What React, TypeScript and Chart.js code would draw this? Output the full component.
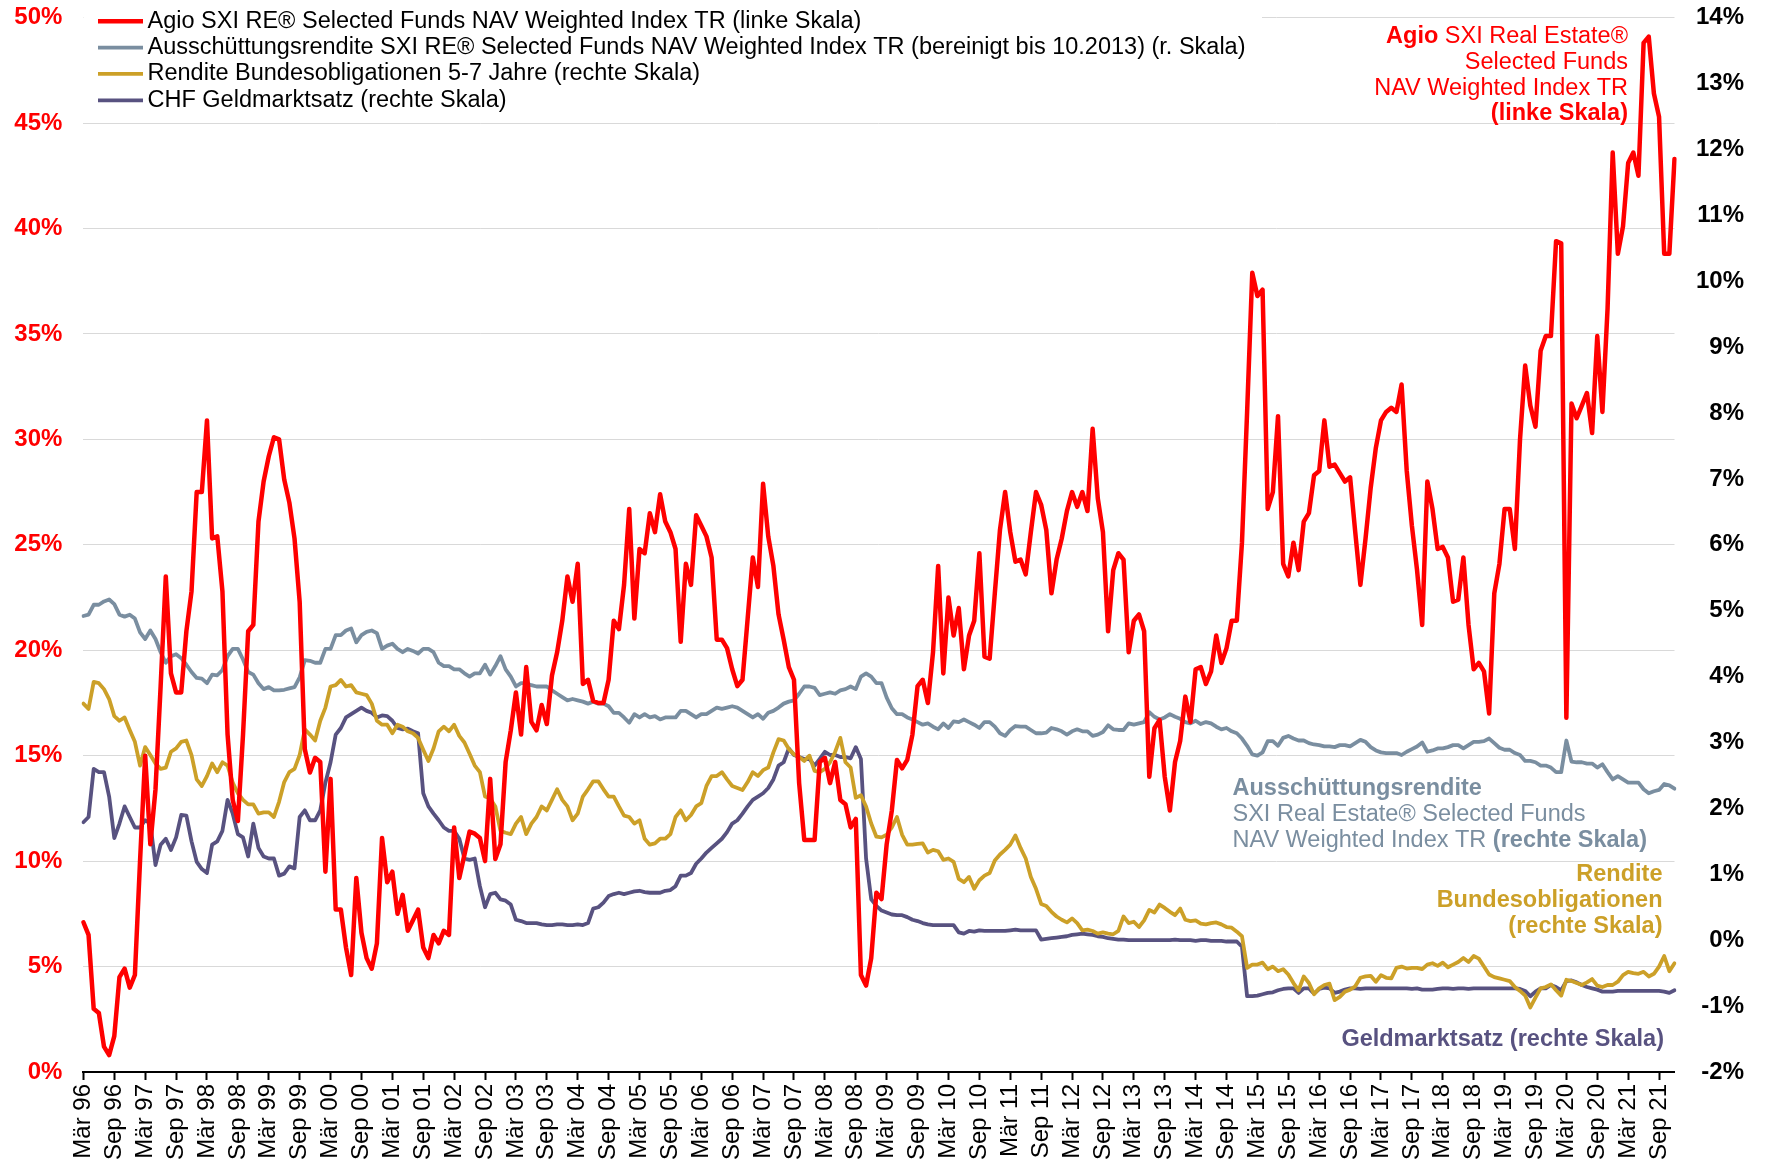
import React, { useEffect, useRef } from 'react';
import { Chart, registerables } from 'chart.js';

Chart.register(...registerables);

const FONT = '"Liberation Sans", Arial, Helvetica, sans-serif';

const RED = '#FF0000';
const GRAY = '#7A8EA0';
const GOLD = '#CCA028';
const PURPLE = '#585280';

// Monthly categories, Mär 96 .. Dez 21
const MONTH_NAMES = ['Jan', 'Feb', 'Mär', 'Apr', 'Mai', 'Jun', 'Jul', 'Aug', 'Sep', 'Okt', 'Nov', 'Dez'];
const FIRST_YEAR = 1996;
const FIRST_MONTH = 2; // März
const MONTH_COUNT = 310;
const categories: string[] = [];
for (let i = 0; i < MONTH_COUNT; i++) {
  const m = (FIRST_MONTH + i) % 12;
  const y = FIRST_YEAR + Math.floor((FIRST_MONTH + i) / 12);
  categories.push(MONTH_NAMES[m] + ' ' + String(y % 100).padStart(2, '0'));
}

// Agio SXI RE Selected Funds NAV Weighted Index TR (left scale, %)
const agio = [
  7.1, 6.5, 3.0, 2.8, 1.2, 0.8, 1.7, 4.5, 4.9, 4.0,
  4.6, 10.0, 15.0, 10.8, 13.4, 18.3, 23.5, 18.9, 18.0, 18.0,
  20.9, 22.8, 27.5, 27.5, 30.9, 25.3, 25.4, 22.8, 16.0, 12.9,
  11.9, 16.0, 20.9, 21.2, 26.1, 28.0, 29.2, 30.1, 30.0, 28.1,
  27.0, 25.3, 22.3, 15.3, 14.2, 14.9, 14.7, 9.5, 13.9, 7.7,
  7.7, 5.9, 4.6, 9.2, 6.6, 5.4, 4.9, 6.1, 11.1, 9.0,
  9.5, 7.5, 8.4, 6.7, 7.2, 7.7, 5.9, 5.4, 6.5, 6.1,
  6.7, 6.5, 11.6, 9.2, 10.3, 11.4, 11.3, 11.1, 10.0, 13.9,
  10.1, 10.8, 14.7, 16.2, 18.0, 16.0, 19.2, 16.6, 16.2, 17.4,
  16.5, 18.8, 19.9, 21.4, 23.5, 22.3, 24.1, 18.4, 18.6, 17.6,
  17.5, 17.5, 18.6, 21.4, 21.0, 23.1, 26.7, 21.5, 24.8, 24.6,
  26.5, 25.6, 27.4, 26.1, 25.6, 24.8, 20.4, 24.1, 23.1, 26.4,
  25.9, 25.4, 24.4, 20.5, 20.5, 20.1, 19.1, 18.3, 18.6, 21.5,
  24.4, 23.0, 27.9, 25.4, 24.0, 21.7, 20.5, 19.2, 18.6, 13.7,
  11.0, 11.0, 11.0, 14.7, 14.9, 13.7, 14.7, 12.9, 12.7, 11.6,
  12.0, 4.6, 4.1, 5.4, 8.5, 8.2, 10.8, 12.4, 14.8, 14.4,
  14.8, 16.0, 18.3, 18.6, 17.5, 19.9, 24.0, 18.9, 22.5, 20.7,
  22.0, 19.1, 20.7, 21.4, 24.6, 19.7, 19.6, 22.7, 25.7, 27.5,
  25.6, 24.2, 24.3, 23.6, 25.6, 27.5, 26.9, 25.7, 22.7, 24.3,
  25.3, 26.6, 27.5, 26.8, 27.5, 26.6, 30.5, 27.2, 25.6, 20.9,
  23.8, 24.6, 24.3, 19.9, 21.4, 21.7, 20.9, 14.0, 16.3, 16.7,
  14.0, 12.4, 14.7, 15.7, 17.8, 16.6, 19.1, 19.2, 18.4, 19.0,
  20.7, 19.4, 20.1, 21.4, 21.4, 25.1, 31.3, 37.9, 36.8, 37.1,
  26.7, 27.5, 31.1, 24.1, 23.5, 25.1, 23.8, 26.1, 26.5, 28.3,
  28.5, 30.9, 28.7, 28.8, 28.4, 28.0, 28.2, 25.6, 23.1, 25.3,
  27.7, 29.6, 30.9, 31.3, 31.5, 31.3, 32.6, 28.5, 25.9, 23.8,
  21.2, 28.0, 26.7, 24.8, 24.9, 24.4, 22.3, 22.4, 24.4, 21.2,
  19.1, 19.4, 19.0, 17.0, 22.7, 24.1, 26.7, 26.7, 24.8, 30.0,
  33.5, 31.6, 30.6, 34.2, 34.9, 34.9, 39.4, 39.3, 16.8, 31.7,
  31.0, 31.6, 32.2, 30.3, 34.9, 31.3, 36.2, 43.6, 38.8, 40.1,
  43.1, 43.6, 42.5, 48.8, 49.1, 46.4, 45.3, 38.8, 38.8, 43.3,
];

// Ausschüttungsrendite (right scale, %)
const ausschuettung = [
  4.92, 4.94, 5.09, 5.09, 5.14, 5.17, 5.10, 4.94, 4.91, 4.94,
  4.88, 4.67, 4.57, 4.70, 4.57, 4.37, 4.21, 4.31, 4.34, 4.28,
  4.18, 4.07, 3.98, 3.97, 3.90, 4.03, 4.02, 4.10, 4.31, 4.42,
  4.42, 4.26, 4.07, 4.03, 3.90, 3.81, 3.84, 3.79, 3.79, 3.80,
  3.82, 3.84, 3.99, 4.25, 4.24, 4.21, 4.21, 4.42, 4.42, 4.63,
  4.63, 4.70, 4.73, 4.52, 4.63, 4.68, 4.70, 4.66, 4.42, 4.47,
  4.50, 4.42, 4.37, 4.42, 4.39, 4.35, 4.42, 4.42, 4.37, 4.21,
  4.16, 4.16, 4.11, 4.11, 4.05, 4.00, 4.05, 4.05, 4.18, 4.03,
  4.16, 4.31, 4.11, 4.00, 3.85, 3.90, 3.90, 3.87, 3.85, 3.85,
  3.85, 3.79, 3.74, 3.69, 3.64, 3.66, 3.64, 3.62, 3.59, 3.62,
  3.59, 3.59, 3.55, 3.45, 3.45, 3.38, 3.30, 3.43, 3.38, 3.43,
  3.38, 3.40, 3.35, 3.38, 3.38, 3.38, 3.48, 3.48, 3.43, 3.38,
  3.43, 3.43, 3.48, 3.53, 3.51, 3.53, 3.55, 3.53, 3.48, 3.43,
  3.38, 3.43, 3.36, 3.45, 3.48, 3.53, 3.59, 3.62, 3.64, 3.74,
  3.85, 3.85, 3.83, 3.72, 3.74, 3.76, 3.74, 3.79, 3.81, 3.85,
  3.81, 4.00, 4.05, 4.00, 3.90, 3.90, 3.68, 3.52, 3.43, 3.43,
  3.38, 3.35, 3.31, 3.27, 3.29, 3.24, 3.20, 3.29, 3.22, 3.32,
  3.31, 3.35, 3.31, 3.27, 3.22, 3.31, 3.31, 3.24, 3.14, 3.10,
  3.19, 3.25, 3.24, 3.24, 3.19, 3.14, 3.14, 3.15, 3.22, 3.20,
  3.17, 3.12, 3.17, 3.20, 3.17, 3.17, 3.10, 3.12, 3.16, 3.26,
  3.20, 3.19, 3.19, 3.29, 3.27, 3.29, 3.31, 3.46, 3.39, 3.35,
  3.38, 3.43, 3.39, 3.36, 3.31, 3.29, 3.33, 3.28, 3.31, 3.29,
  3.24, 3.20, 3.22, 3.17, 3.14, 3.06, 2.95, 2.82, 2.80, 2.85,
  3.02, 3.02, 2.95, 3.07, 3.10, 3.06, 3.03, 3.03, 2.99, 2.97,
  2.96, 2.94, 2.94, 2.93, 2.96, 2.96, 2.94, 2.99, 3.04, 3.01,
  2.93, 2.88, 2.85, 2.84, 2.84, 2.84, 2.81, 2.86, 2.90, 2.94,
  3.00, 2.86, 2.88, 2.91, 2.91, 2.93, 2.96, 2.96, 2.91, 2.96,
  3.01, 3.01, 3.02, 3.06, 2.99, 2.92, 2.89, 2.89, 2.84, 2.81,
  2.72, 2.72, 2.70, 2.65, 2.65, 2.62, 2.55, 2.55, 3.03, 2.71,
  2.70, 2.70, 2.68, 2.68, 2.62, 2.67, 2.55, 2.44, 2.49, 2.44,
  2.39, 2.39, 2.39, 2.29, 2.23, 2.26, 2.28, 2.37, 2.35, 2.30,
];

// Rendite Bundesobligationen 5-7 Jahre (right scale, %)
const bundesobligationen = [
  3.59, 3.51, 3.92, 3.90, 3.81, 3.66, 3.40, 3.33, 3.38, 3.19,
  3.01, 2.65, 2.93, 2.81, 2.68, 2.60, 2.62, 2.86, 2.91, 3.01,
  3.03, 2.81, 2.44, 2.34, 2.49, 2.68, 2.55, 2.70, 2.65, 2.39,
  2.23, 2.13, 2.06, 2.06, 1.92, 1.94, 1.94, 1.87, 2.10, 2.40,
  2.55, 2.60, 2.81, 3.20, 3.12, 3.03, 3.33, 3.53, 3.85, 3.87,
  3.95, 3.85, 3.87, 3.76, 3.74, 3.72, 3.59, 3.33, 3.27, 3.27,
  3.14, 3.27, 3.24, 3.17, 3.14, 3.07, 2.89, 2.72, 2.91, 3.17,
  3.24, 3.17, 3.27, 3.10, 3.00, 2.83, 2.65, 2.55, 2.18, 2.15,
  2.03, 1.66, 1.63, 1.61, 1.77, 1.87, 1.61, 1.77, 1.87, 2.03,
  1.97, 2.13, 2.29, 2.13, 2.03, 1.82, 1.92, 2.18, 2.29, 2.41,
  2.41, 2.29, 2.18, 2.18, 2.03, 1.89, 1.87, 1.77, 1.82, 1.54,
  1.45, 1.47, 1.54, 1.54, 1.61, 1.87, 1.97, 1.82, 1.90, 2.03,
  2.08, 2.34, 2.49, 2.49, 2.55, 2.44, 2.34, 2.31, 2.28, 2.40,
  2.55, 2.49, 2.58, 2.62, 2.85, 3.05, 3.03, 2.90, 2.82, 2.78,
  2.72, 2.80, 2.57, 2.55, 2.60, 2.70, 2.86, 3.07, 2.70, 2.62,
  2.16, 2.20, 2.03, 1.77, 1.57, 1.56, 1.60, 1.71, 1.87, 1.60,
  1.45, 1.45, 1.46, 1.47, 1.33, 1.37, 1.35, 1.22, 1.24, 1.19,
  0.93, 0.88, 0.96, 0.78, 0.91, 0.98, 1.02, 1.21, 1.30, 1.37,
  1.45, 1.59, 1.40, 1.24, 0.96, 0.78, 0.55, 0.52, 0.43, 0.36,
  0.31, 0.27, 0.33, 0.26, 0.15, 0.16, 0.14, 0.10, 0.12, 0.10,
  0.09, 0.14, 0.36, 0.26, 0.28, 0.20, 0.30, 0.46, 0.42, 0.54,
  0.49, 0.43, 0.38, 0.48, 0.31, 0.29, 0.30, 0.25, 0.24, 0.26,
  0.27, 0.24, 0.20, 0.19, 0.13, 0.06, -0.42, -0.37, -0.37, -0.34,
  -0.44, -0.40, -0.47, -0.44, -0.52, -0.65, -0.76, -0.55, -0.65, -0.82,
  -0.73, -0.68, -0.66, -0.91, -0.86, -0.78, -0.75, -0.70, -0.57, -0.55,
  -0.54, -0.63, -0.53, -0.57, -0.58, -0.42, -0.40, -0.43, -0.42, -0.42,
  -0.44, -0.37, -0.35, -0.39, -0.34, -0.41, -0.37, -0.33, -0.27, -0.33,
  -0.24, -0.28, -0.40, -0.52, -0.56, -0.58, -0.60, -0.62, -0.71, -0.77,
  -0.84, -1.02, -0.87, -0.73, -0.71, -0.67, -0.76, -0.84, -0.60, -0.62,
  -0.65, -0.68, -0.64, -0.59, -0.69, -0.71, -0.68, -0.68, -0.63, -0.53,
  -0.48, -0.50, -0.51, -0.48, -0.55, -0.51, -0.40, -0.24, -0.47, -0.35,
];

// CHF Geldmarktsatz (right scale, %)
const geldmarktsatz = [
  1.79, 1.87, 2.60, 2.55, 2.55, 2.18, 1.55, 1.77, 2.03, 1.87,
  1.71, 1.71, 1.82, 1.77, 1.14, 1.45, 1.54, 1.37, 1.56, 1.90,
  1.89, 1.50, 1.19, 1.08, 1.02, 1.45, 1.50, 1.66, 2.13, 1.92,
  1.61, 1.56, 1.27, 1.77, 1.40, 1.27, 1.24, 1.24, 0.98, 1.01,
  1.12, 1.09, 1.87, 1.97, 1.82, 1.82, 1.97, 2.39, 2.70, 3.12,
  3.22, 3.38, 3.43, 3.48, 3.53, 3.48, 3.45, 3.38, 3.41, 3.40,
  3.33, 3.22, 3.20, 3.21, 3.17, 3.14, 2.23, 2.03, 1.92, 1.82,
  1.71, 1.66, 1.66, 1.54, 1.24, 1.22, 1.24, 0.82, 0.50, 0.70,
  0.72, 0.62, 0.60, 0.54, 0.31, 0.29, 0.26, 0.26, 0.26, 0.24,
  0.23, 0.23, 0.24, 0.24, 0.23, 0.23, 0.24, 0.23, 0.26, 0.48,
  0.50, 0.57, 0.67, 0.70, 0.72, 0.70, 0.72, 0.74, 0.75, 0.73,
  0.72, 0.72, 0.72, 0.75, 0.76, 0.82, 0.98, 0.98, 1.02, 1.16,
  1.24, 1.33, 1.40, 1.47, 1.54, 1.64, 1.77, 1.82, 1.92, 2.03,
  2.13, 2.18, 2.23, 2.31, 2.44, 2.65, 2.70, 2.91, 2.81, 2.78,
  2.75, 2.75, 2.65, 2.75, 2.86, 2.81, 2.81, 2.78, 2.78, 2.76,
  2.93, 2.75, 1.24, 0.62, 0.52, 0.45, 0.42, 0.39, 0.38, 0.38,
  0.35, 0.31, 0.29, 0.26, 0.24, 0.23, 0.23, 0.23, 0.23, 0.23,
  0.12, 0.10, 0.14, 0.13, 0.15, 0.14, 0.14, 0.14, 0.14, 0.14,
  0.15, 0.16, 0.15, 0.15, 0.15, 0.15, 0.01, 0.02, 0.03, 0.04,
  0.05, 0.06, 0.08, 0.09, 0.10, 0.09, 0.08, 0.06, 0.05, 0.03,
  0.02, 0.01, 0.01, 0.00, 0.00, 0.00, 0.00, 0.00, 0.00, 0.00,
  0.00, 0.00, 0.01, 0.00, 0.00, 0.00, -0.01, 0.00, 0.00, -0.01,
  -0.01, -0.01, -0.02, -0.02, -0.02, -0.10, -0.85, -0.85, -0.84, -0.82,
  -0.80, -0.79, -0.76, -0.74, -0.73, -0.73, -0.80, -0.73, -0.73, -0.81,
  -0.74, -0.72, -0.73, -0.80, -0.78, -0.75, -0.73, -0.73, -0.74, -0.73,
  -0.73, -0.73, -0.73, -0.73, -0.73, -0.73, -0.73, -0.73, -0.74, -0.73,
  -0.75, -0.75, -0.75, -0.74, -0.73, -0.73, -0.74, -0.73, -0.73, -0.74,
  -0.73, -0.73, -0.73, -0.73, -0.73, -0.73, -0.73, -0.73, -0.73, -0.74,
  -0.77, -0.85, -0.78, -0.73, -0.73, -0.68, -0.71, -0.76, -0.62, -0.61,
  -0.64, -0.68, -0.71, -0.73, -0.75, -0.78, -0.78, -0.78, -0.77, -0.77,
  -0.77, -0.77, -0.77, -0.77, -0.77, -0.77, -0.77, -0.78, -0.80, -0.76,
];

const legendLabels = [
  'Agio SXI RE® Selected Funds NAV Weighted Index TR (linke Skala)',
  'Ausschüttungsrendite SXI RE® Selected Funds NAV Weighted Index TR (bereinigt bis 10.2013) (r. Skala)',
  'Rendite Bundesobligationen 5-7 Jahre (rechte Skala)',
  'CHF Geldmarktsatz (rechte Skala)',
];
const seriesColors = [RED, GRAY, GOLD, PURPLE];
const seriesWidths = [4.5, 3.8, 3.8, 3.8];

const leftTicks = { min: 0, max: 50, step: 5 };
const rightTicks = { min: -2, max: 14, step: 1 };

type Part = { t: string; b?: boolean };

const TEXT_SIZE = 23.5;
const DY = 2.3;

function drawRich(ctx: CanvasRenderingContext2D, parts: Part[], x: number, y: number, align: 'left' | 'right', color: string) {
  ctx.save();
  ctx.fillStyle = color;
  ctx.textBaseline = 'middle';
  ctx.textAlign = 'left';
  const fontOf = (p: Part) => `${p.b ? 'bold ' : ''}${TEXT_SIZE}px ${FONT}`;
  let total = 0;
  const widths = parts.map((p) => {
    ctx.font = fontOf(p);
    const w = ctx.measureText(p.t).width;
    total += w;
    return w;
  });
  let cx = align === 'right' ? x - total : x;
  parts.forEach((p, i) => {
    ctx.font = fontOf(p);
    ctx.fillText(p.t, cx, y + DY);
    cx += widths[i];
  });
  ctx.restore();
}

const overlayPlugin = {
  id: 'overlayTexts',
  beforeDatasetsDraw(chart: any) {
    const ctx = chart.ctx as CanvasRenderingContext2D;
    ctx.save();
    ctx.fillStyle = '#FFFFFF';
    ctx.fillRect(chart.chartArea.left, 0, 1262 - chart.chartArea.left, 113);
    ctx.restore();
  },
  afterDraw(chart: any) {
    const ctx = chart.ctx as CanvasRenderingContext2D;
    // Legend
    const rowsY = [19, 45.3, 71.6, 98];
    legendLabels.forEach((label, i) => {
      ctx.save();
      ctx.strokeStyle = seriesColors[i];
      ctx.lineWidth = seriesWidths[i];
      ctx.lineCap = 'butt';
      ctx.beginPath();
      ctx.moveTo(98, rowsY[i] + DY);
      ctx.lineTo(143, rowsY[i] + DY);
      ctx.stroke();
      ctx.restore();
      drawRich(ctx, [{ t: label }], 147.5, rowsY[i], 'left', '#000000');
    });

    // Red annotation (top right)
    const redX = 1628;
    drawRich(ctx, [{ t: 'Agio', b: true }, { t: ' SXI Real Estate®' }], redX, 34, 'right', RED);
    drawRich(ctx, [{ t: 'Selected Funds' }], redX, 60, 'right', RED);
    drawRich(ctx, [{ t: 'NAV Weighted Index TR' }], redX, 86, 'right', RED);
    drawRich(ctx, [{ t: '(linke Skala)', b: true }], redX, 111.5, 'right', RED);

    // Gray annotation
    const grayX = 1232.5;
    drawRich(ctx, [{ t: 'Ausschüttungsrendite', b: true }], grayX, 786, 'left', GRAY);
    drawRich(ctx, [{ t: 'SXI Real Estate® Selected Funds' }], grayX, 812, 'left', GRAY);
    drawRich(ctx, [{ t: 'NAV Weighted Index TR ' }, { t: '(rechte Skala)', b: true }], grayX, 838, 'left', GRAY);

    // Gold annotation
    const goldX = 1662.5;
    drawRich(ctx, [{ t: 'Rendite', b: true }], goldX, 872.5, 'right', GOLD);
    drawRich(ctx, [{ t: 'Bundesobligationen', b: true }], goldX, 898.5, 'right', GOLD);
    drawRich(ctx, [{ t: '(rechte Skala)', b: true }], goldX, 924.5, 'right', GOLD);

    // Purple annotation
    drawRich(ctx, [{ t: 'Geldmarktsatz (rechte Skala)', b: true }], 1664, 1037.5, 'right', PURPLE);
  },
};

export default function App() {
  const canvasRef = useRef<HTMLCanvasElement | null>(null);

  useEffect(() => {
    const canvas = canvasRef.current;
    if (!canvas) return;
    const mk = (label: string, data: number[], i: number, axis: string) => ({
      label,
      data,
      yAxisID: axis,
      borderColor: seriesColors[i],
      backgroundColor: seriesColors[i],
      borderWidth: seriesWidths[i],
      pointRadius: 0,
      pointHoverRadius: 0,
      tension: 0,
      fill: false,
      borderJoinStyle: 'round' as const,
      borderCapStyle: 'round' as const,
    });
    const chart = new Chart(canvas, {
      type: 'line',
      data: {
        labels: categories,
        datasets: [
          mk(legendLabels[0], agio, 0, 'yL'),
          mk(legendLabels[1], ausschuettung, 1, 'yR'),
          mk(legendLabels[2], bundesobligationen, 2, 'yR'),
          mk(legendLabels[3], geldmarktsatz, 3, 'yR'),
        ],
      },
      options: {
        responsive: false,
        maintainAspectRatio: false,
        animation: false,
        devicePixelRatio: 1,
        events: [],
        layout: { padding: { left: 0, right: 21, top: 17.6, bottom: 0 } },
        plugins: {
          legend: { display: false },
          tooltip: { enabled: false },
          title: { display: false },
        },
        scales: {
          x: {
            type: 'category',
            offset: false,
            border: { display: true, color: '#000000', width: 2 },
            grid: {
              display: true,
              drawOnChartArea: false,
              drawTicks: true,
              tickLength: 8,
              tickWidth: 2,
              tickColor: (c: any) => (c.index % 6 === 0 ? '#000000' : 'rgba(0,0,0,0)'),
            },
            ticks: {
              autoSkip: false,
              minRotation: 90,
              maxRotation: 90,
              padding: 4,
              color: '#000000',
              font: { family: FONT, size: 24 },
              callback: (_v: any, i: number) => (i % 6 === 0 ? categories[i] : ''),
            },
            afterFit: (s: any) => {
              s.height = 90;
            },
          },
          yL: {
            type: 'linear',
            position: 'left',
            min: leftTicks.min,
            max: leftTicks.max,
            border: { display: false },
            grid: {
              drawTicks: true,
              tickLength: 21,
              tickColor: 'rgba(0,0,0,0)',
              lineWidth: 1,
              color: (c: any) => (c.tick && c.tick.value === 0 ? 'rgba(0,0,0,0)' : '#D9D9D9'),
            },
            ticks: {
              stepSize: leftTicks.step,
              padding: 0,
              color: RED,
              font: { family: FONT, size: 24, weight: 'bold' },
              callback: (v: any) => `${v}%`,
            },
            afterFit: (s: any) => {
              s.width = 83.4;
            },
          },
          yR: {
            type: 'linear',
            position: 'right',
            min: rightTicks.min,
            max: rightTicks.max,
            border: { display: false },
            grid: { display: false, drawOnChartArea: false, drawTicks: false },
            ticks: {
              stepSize: rightTicks.step,
              padding: 0,
              crossAlign: 'far',
              color: '#000000',
              font: { family: FONT, size: 24, weight: 'bold' },
              callback: (v: any) => `${v}%`,
            },
            afterFit: (s: any) => {
              s.width = 69.5;
            },
          },
        },
      } as any,
      plugins: [overlayPlugin],
    });
    return () => chart.destroy();
  }, []);

  return (
    <div style={{ position: 'absolute', left: 0, top: 0, width: 1765, height: 1162, background: '#FFFFFF' }}>
      <canvas ref={canvasRef} width={1765} height={1162} style={{ display: 'block', width: 1765, height: 1162 }} />
    </div>
  );
}
